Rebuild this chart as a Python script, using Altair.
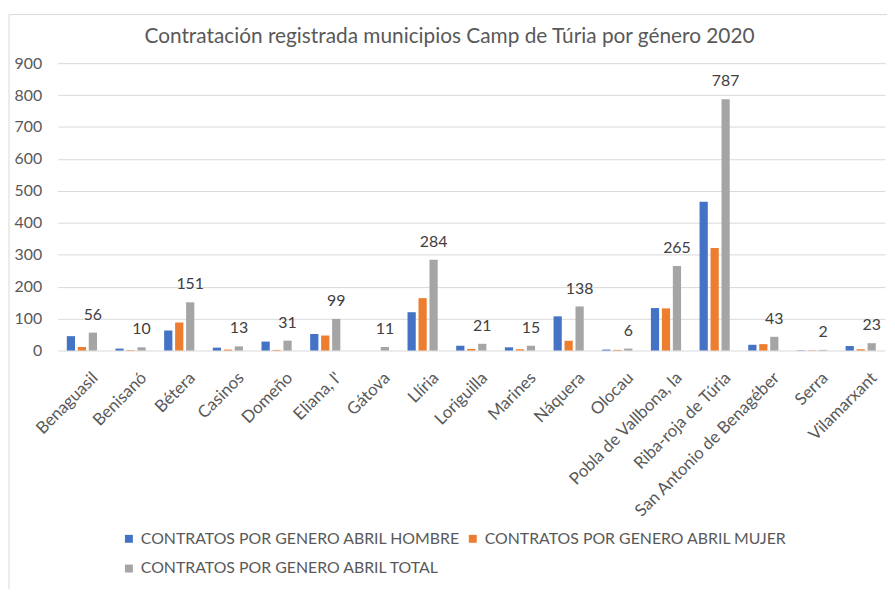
import altair as alt
import pandas as pd

municipios = ["Benaguasil", "Benisanó", "Bétera", "Casinos", "Domeño", "Eliana, l'",
              "Gátova", "Llíria", "Loriguilla", "Marines", "Náquera", "Olocau",
              "Pobla de Vallbona, la", "Riba-roja de Túria", "San Antonio de Benagéber",
              "Serra", "Vilamarxant"]
hombre = [45, 6, 63, 9, 28, 52, 0, 120, 15, 10, 107, 3, 133, 466, 18, 1, 14]
mujer = [11, 2, 88, 3, 2, 47, 0, 164, 5, 4, 31, 2, 132, 321, 20, 1, 4]
total = [56, 10, 151, 13, 31, 99, 11, 284, 21, 15, 138, 6, 265, 787, 43, 2, 23]

series = ["CONTRATOS POR GENERO ABRIL HOMBRE",
          "CONTRATOS POR GENERO ABRIL MUJER",
          "CONTRATOS POR GENERO ABRIL TOTAL"]
colors = ["#4472C4", "#ED7D31", "#A5A5A5"]
y_ticks = [0, 100, 200, 300, 400, 500, 600, 700, 800, 900]

rows = []
for i, m in enumerate(municipios):
    for s, vals in zip(series, [hombre, mujer, total]):
        rows.append({"municipio": m, "serie": s, "valor": vals[i]})
df = pd.DataFrame(rows)

FONT = "Lato"
W, H = 835, 290

x_enc = alt.X("municipio:N", sort=municipios, title=None,
              scale=alt.Scale(paddingInner=0.38, paddingOuter=0.19),
              axis=alt.Axis(labelAngle=-45, labelFontSize=17, labelColor="#595959",
                            labelFont=FONT, domain=False, ticks=False, labelPadding=19,
                            labelOffset=8, labelLimit=400))
xoff_enc = alt.XOffset("serie:N", scale=alt.Scale(domain=series, paddingInner=0.25))
y_enc = alt.Y("valor:Q", title=None,
              scale=alt.Scale(domain=[0, 900], nice=False),
              axis=alt.Axis(values=y_ticks, grid=True, gridColor="#D9D9D9", domain=False,
                            ticks=False, labelFontSize=16, labelColor="#595959",
                            labelFont=FONT, labelPadding=16))

bars = alt.Chart(df).mark_bar().encode(
    x=x_enc,
    xOffset=xoff_enc,
    y=y_enc,
    color=alt.Color("serie:N", scale=alt.Scale(domain=series, range=colors),
                    legend=alt.Legend(title=None, orient="none", legendX=64, legendY=472,
                                      direction="horizontal", columns=2,
                                      symbolType="square", symbolSize=64,
                                      labelFontSize=16, labelColor="#595959", labelFont=FONT,
                                      rowPadding=14, columnPadding=4, symbolOffset=0,
                                      labelOffset=4, labelLimit=400)),
)

labels = alt.Chart(df).transform_filter(
    alt.datum.serie == series[2]
).mark_text(dy=-18, fontSize=16, color="#404040", font=FONT).encode(
    x=x_enc,
    xOffset=xoff_enc,
    y=y_enc,
    text=alt.Text("valor:Q"),
)

border = alt.Chart(pd.DataFrame({"a": [0]})).mark_rect(
    fill="transparent", stroke="#D9D9D9", strokeWidth=1
).encode(x=alt.value(-49), x2=alt.value(W + 40), y=alt.value(-49), y2=alt.value(H + 400))

chart = alt.layer(border, bars, labels).properties(
    width=W, height=H,
    title=alt.TitleParams("Contratación registrada municipios Camp de Túria por género 2020",
                          fontSize=21, font=FONT, color="#595959", fontWeight="normal",
                          anchor="middle", offset=-33, dx=-22),
    autosize=alt.AutoSizeParams(type="none"),
    padding={"left": 50, "top": 53, "right": 2, "bottom": 238},
).configure_view(stroke=None)

chart.save("out.html", embed_options={"renderer": "svg", "actions": False})
